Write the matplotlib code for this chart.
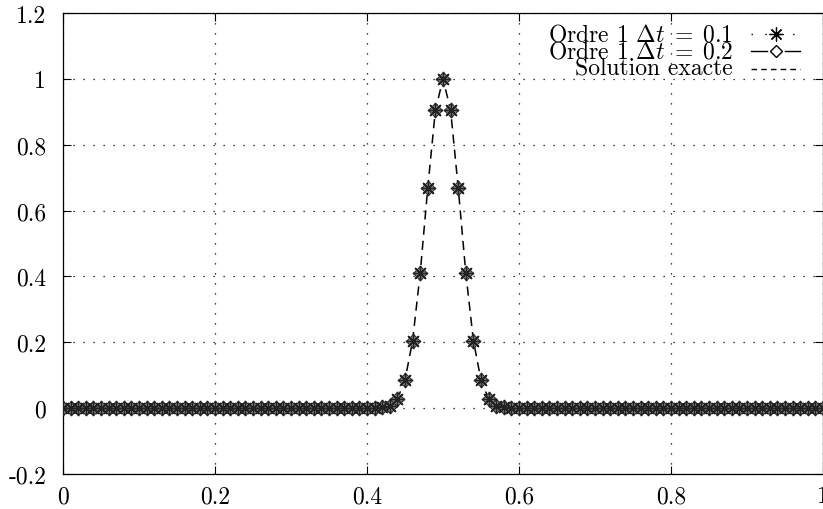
import numpy as np
import matplotlib
matplotlib.use("Agg")
import matplotlib.pyplot as plt

plt.rcParams["font.family"] = "serif"
plt.rcParams["font.serif"] = ["cmr10", "DejaVu Serif"]
plt.rcParams["mathtext.fontset"] = "cm"
plt.rcParams["axes.unicode_minus"] = False
plt.rcParams["axes.formatter.use_mathtext"] = True

# donnees (pas de 0.01 en x)
x = np.linspace(0, 1, 101)
pic = [0.002, 0.008, 0.028, 0.085, 0.205, 0.41, 0.67, 0.905, 1.0,
       0.905, 0.67, 0.41, 0.205, 0.085, 0.028, 0.008, 0.002]
zeros_gauche = [0.0] * 42
zeros_droite = [0.0] * 42
u_dt01 = zeros_gauche + pic + zeros_droite
u_dt02 = zeros_gauche + pic + zeros_droite
u_exacte = zeros_gauche + pic + zeros_droite

labels = [r"Ordre 1 $\Delta t\;=\;0.1$", r"Ordre 1 $\Delta t\;=\;0.2$", "Solution exacte"]
xticks = [0, 0.2, 0.4, 0.6, 0.8, 1]
xticklabels = ["0", "0.2", "0.4", "0.6", "0.8", "1"]
yticks = [-0.2, 0, 0.2, 0.4, 0.6, 0.8, 1, 1.2]
yticklabels = ["-0.2", "0", "0.2", "0.4", "0.6", "0.8", "1", "1.2"]

fig = plt.figure(figsize=(8.23, 5.10), dpi=100)
ax = fig.add_axes([63 / 823, 35 / 510, 760 / 823, 461 / 510])

# courbes
ax.plot(x, u_exacte, color="black", lw=1.1, ls=(0, (6, 4)), zorder=2)
ax.plot(x, u_dt02, color="#444444", lw=0, marker="D", ms=7, mfc="#9a9a9a",
        mec="#303030", mew=0.9, zorder=3)
ax.plot(x, u_dt01, color="#222222", lw=0, marker=(8, 2, 0), ms=11,
        mew=1.0, zorder=4)

ax.set_xlim(0, 1)
ax.set_ylim(-0.2, 1.2)
ax.set_xticks(xticks)
ax.set_xticklabels(xticklabels)
ax.set_yticks(yticks)
ax.set_yticklabels(yticklabels)
ax.tick_params(direction="in", length=6, width=0.8, labelsize=17, pad=12,
               top=True, right=True)
ax.tick_params(axis="x", pad=8)
ax.grid(True, color="black", ls=(0, (1, 7)), lw=0.9)
for s in ax.spines.values():
    s.set_linewidth(0.9)

# legende (texte aligne a droite, echantillon a droite)
ylig = [0.954, 0.917, 0.879]
xt = 0.8816
xa, xb, xm = 0.905, 0.97, 0.938
for lab, yy in zip(labels, ylig):
    ax.text(xt, yy, lab, transform=ax.transAxes, ha="right", va="center",
            fontsize=17)
ax.plot([xa, xb], [ylig[0]] * 2, transform=ax.transAxes, color="black",
        lw=1.0, ls=(0, (1, 9)), clip_on=False)
ax.plot([xm], [ylig[0]], transform=ax.transAxes, color="black",
        marker=(8, 2, 0), ms=10, mew=0.9, lw=0, clip_on=False)
ax.plot([xa, xm - 0.012], [ylig[1]] * 2, transform=ax.transAxes,
        color="black", lw=1.0, clip_on=False)
ax.plot([xm + 0.012, xb], [ylig[1]] * 2, transform=ax.transAxes,
        color="black", lw=1.0, clip_on=False)
ax.plot([xm], [ylig[1]], transform=ax.transAxes, color="black", marker="D",
        ms=6, mfc="white", mew=1.0, lw=0, clip_on=False)
ax.plot([xa, xb], [ylig[2]] * 2, transform=ax.transAxes, color="black",
        lw=1.0, ls=(0, (4, 3)), clip_on=False)

fig.savefig("out.png", dpi=100)
